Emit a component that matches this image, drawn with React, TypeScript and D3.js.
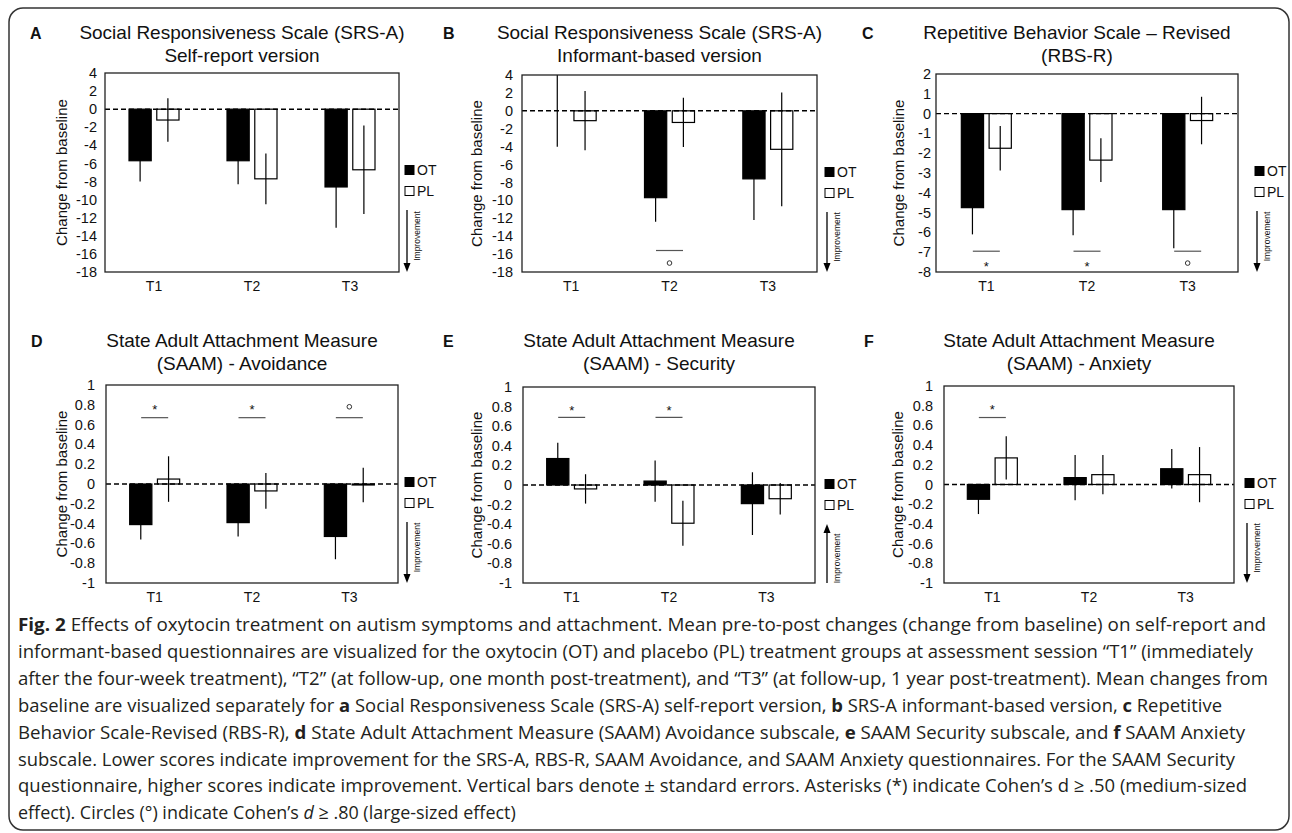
import * as d3 from 'd3';

const timepoints = ['T1', 'T2', 'T3'];
const groups = ['OT', 'PL'];

// tick labels
const srsTicks = [4, 2, 0, -2, -4, -6, -8, -10, -12, -14, -16, -18];
const rbsTicks = [2, 1, 0, -1, -2, -3, -4, -5, -6, -7, -8];
const saamTicks = [1, 0.8, 0.6, 0.4, 0.2, 0, -0.2, -0.4, -0.6, -0.8, -1];

// mean change from baseline and standard errors, per timepoint
const srsSelfOT = [-5.7, -5.7, -8.6];
const srsSelfOTse = [2.3, 2.6, 4.5];
const srsSelfPL = [-1.2, -7.7, -6.7];
const srsSelfPLse = [2.4, 2.8, 4.9];

const srsInfOT = [0.0, -9.7, -7.6];
const srsInfOTse = [4.0, 2.7, 4.6];
const srsInfPL = [-1.1, -1.3, -4.3];
const srsInfPLse = [3.3, 2.75, 6.35];

const rbsOT = [-4.75, -4.85, -4.85];
const rbsOTse = [1.35, 1.3, 1.95];
const rbsPL = [-1.75, -2.35, -0.35];
const rbsPLse = [1.12, 1.1, 1.2];

const avoidOT = [-0.41, -0.39, -0.53];
const avoidOTse = [0.15, 0.14, 0.23];
const avoidPL = [0.05, -0.07, -0.01];
const avoidPLse = [0.23, 0.18, 0.175];

const secOT = [0.27, 0.04, -0.19];
const secOTse = [0.16, 0.21, 0.32];
const secPL = [-0.04, -0.39, -0.14];
const secPLse = [0.15, 0.23, 0.16];

const anxOT = [-0.15, 0.07, 0.16];
const anxOTse = [0.15, 0.23, 0.2];
const anxPL = [0.27, 0.1, 0.1];
const anxPLse = [0.22, 0.2, 0.28];

// effect size markers (star = d >= .50, circle = d >= .80)
const srsSelfSig: [string, string][] = [];
const srsInfSig: [string, string][] = [['T2', 'circle']];
const rbsSig: [string, string][] = [['T1', 'star'], ['T2', 'star'], ['T3', 'circle']];
const avoidSig: [string, string][] = [['T1', 'star'], ['T2', 'star'], ['T3', 'circle']];
const secSig: [string, string][] = [['T1', 'star'], ['T2', 'star']];
const anxSig: [string, string][] = [['T1', 'star']];

const FONT = '"Liberation Sans", Arial, Helvetica, sans-serif';
const CAP_FONT = '"Open Sans", "Noto Sans", sans-serif';

const panels = [
  {
    letter: 'A', title: ['Social Responsiveness Scale (SRS-A)', 'Self-report version'],
    box: [105, 399, 73, 272], titleY: 39, letterX: 30, sideX: 407, tickGap: 8, yTitleOff: 43,
    ticks: srsTicks, ot: srsSelfOT, otSe: srsSelfOTse, pl: srsSelfPL, plSe: srsSelfPLse,
    sig: srsSelfSig, sigLine: 0, sigMark: 0, up: false,
  },
  {
    letter: 'B', title: ['Social Responsiveness Scale (SRS-A)', 'Informant-based version'],
    box: [522, 817, 75, 272], titleY: 39, letterX: 443, sideX: 827, tickGap: 9, yTitleOff: 45,
    ticks: srsTicks, ot: srsInfOT, otSe: srsInfOTse, pl: srsInfPL, plSe: srsInfPLse,
    sig: srsInfSig, sigLine: -15.6, sigMark: -17.0, up: false,
  },
  {
    letter: 'C', title: ['Repetitive Behavior Scale \u2013 Revised', '(RBS-R)'],
    box: [936, 1238, 74, 272], titleY: 39, letterX: 862, sideX: 1257, tickGap: 5, yTitleOff: 37,
    ticks: rbsTicks, ot: rbsOT, otSe: rbsOTse, pl: rbsPL, plSe: rbsPLse,
    sig: rbsSig, sigLine: -6.95, sigMark: -7.55, up: false,
  },
  {
    letter: 'D', title: ['State Adult Attachment Measure', '(SAAM) - Avoidance'],
    box: [106, 398, 385, 583], titleY: 347, letterX: 31, sideX: 407, tickGap: 11, yTitleOff: 44,
    ticks: saamTicks, ot: avoidOT, otSe: avoidOTse, pl: avoidPL, plSe: avoidPLse,
    sig: avoidSig, sigLine: 0.67, sigMark: 0.78, up: false,
  },
  {
    letter: 'E', title: ['State Adult Attachment Measure', '(SAAM) - Security'],
    box: [523, 815, 387, 583], titleY: 347, letterX: 443, sideX: 827, tickGap: 11, yTitleOff: 46,
    ticks: saamTicks, ot: secOT, otSe: secOTse, pl: secPL, plSe: secPLse,
    sig: secSig, sigLine: 0.69, sigMark: 0.79, up: true,
  },
  {
    letter: 'F', title: ['State Adult Attachment Measure', '(SAAM) - Anxiety'],
    box: [944, 1234, 386, 583], titleY: 347, letterX: 864, sideX: 1247, tickGap: 11, yTitleOff: 46,
    ticks: saamTicks, ot: anxOT, otSe: anxOTse, pl: anxPL, plSe: anxPLse,
    sig: anxSig, sigLine: 0.68, sigMark: 0.79, up: false,
  },
];

const captionLines: [string, string][][] = [
  [['Fig. 2', 'b'], [' Effects of oxytocin treatment on autism symptoms and attachment. Mean pre-to-post changes (change from baseline) on self-report and', '']],
  [['informant-based questionnaires are visualized for the oxytocin (OT) and placebo (PL) treatment groups at assessment session \u201cT1\u201d (immediately', '']],
  [['after the four-week treatment), \u201cT2\u201d (at follow-up, one month post-treatment), and \u201cT3\u201d (at follow-up, 1 year post-treatment). Mean changes from', '']],
  [['baseline are visualized separately for ', ''], ['a', 'b'], [' Social Responsiveness Scale (SRS-A) self-report version, ', ''], ['b', 'b'], [' SRS-A informant-based version, ', ''], ['c', 'b'], [' Repetitive', '']],
  [['Behavior Scale-Revised (RBS-R), ', ''], ['d', 'b'], [' State Adult Attachment Measure (SAAM) Avoidance subscale, ', ''], ['e', 'b'], [' SAAM Security subscale, and ', ''], ['f', 'b'], [' SAAM Anxiety', '']],
  [['subscale. Lower scores indicate improvement for the SRS-A, RBS-R, SAAM Avoidance, and SAAM Anxiety questionnaires. For the SAAM Security', '']],
  [['questionnaire, higher scores indicate improvement. Vertical bars denote \u00b1 standard errors. Asterisks (*) indicate Cohen\u2019s d \u2265 .50 (medium-sized', '']],
  [['effect). Circles (\u00b0) indicate Cohen\u2019s ', ''], ['d', 'i'], [' \u2265 .80 (large-sized effect)', '']],
];
// right end of each caption line (the last one is left to its natural width)
const captionEnds = [1266, 1253, 1268, 1222, 1245, 1235, 1247];

function Panel({ p }: { p: any }) {
  const [x0, x1, y0, y1] = p.box;
  const y = d3.scaleLinear().domain(d3.extent(p.ticks) as [number, number]).range([y1, y0]);
  const x = d3.scaleBand().domain(timepoints).range([x0, x1]);
  const inner = d3.scaleBand().domain(groups).range([-25, 25]).paddingInner(0.2);
  const cx = (t: string) => (x(t) as number) + x.bandwidth() / 2;
  const fmt = (v: number) => String(+v.toFixed(1));
  const tcx = (x0 + x1) / 2 - 10;
  const arrowTop = y0 + 137;
  const series = [
    { g: 'OT', vals: p.ot, se: p.otSe, fill: '#000' },
    { g: 'PL', vals: p.pl, se: p.plSe, fill: '#fff' },
  ];

  return (
    <g fontFamily={FONT} fill="#111">
      <text x={p.letterX} y={p.titleY} fontSize={16} fontWeight="bold">{p.letter}</text>
      <text x={tcx} y={p.titleY} fontSize={19} textAnchor="middle">{p.title[0]}</text>
      <text x={tcx} y={p.titleY + 23} fontSize={19} textAnchor="middle">{p.title[1]}</text>

      {/* bars */}
      {series.map((s) =>
        timepoints.map((t, i) => {
          const v = s.vals[i];
          const bx = cx(t) + (inner(s.g) as number);
          return (
            <rect key={s.g + t} x={bx} width={inner.bandwidth()}
              y={Math.min(y(v), y(0))} height={Math.abs(y(v) - y(0))}
              fill={s.fill} stroke="#000" strokeWidth={1.2} />
          );
        })
      )}

      <line x1={x0} x2={x1} y1={y(0)} y2={y(0)} stroke="#000" strokeWidth={1.4} strokeDasharray="5 3" />

      {/* error bars */}
      {series.map((s) =>
        timepoints.map((t, i) => {
          const ex = cx(t) + (inner(s.g) as number) + inner.bandwidth() / 2;
          return (
            <line key={'e' + s.g + t} x1={ex} x2={ex}
              y1={y(s.vals[i] - s.se[i])} y2={y(s.vals[i] + s.se[i])}
              stroke="#000" strokeWidth={1.2} />
          );
        })
      )}

      {/* effect size markers */}
      {p.sig.map(([t, mark]: [string, string]) => (
        <g key={'s' + t}>
          <line x1={cx(t) - 13.5} x2={cx(t) + 13.5} y1={y(p.sigLine)} y2={y(p.sigLine)} stroke="#555" strokeWidth={1.2} />
          {mark === 'star'
            ? <text x={cx(t)} y={y(p.sigMark) + 7.5} fontSize={13} textAnchor="middle">*</text>
            : <circle cx={cx(t)} cy={y(p.sigMark)} r={2.3} fill="#fff" stroke="#333" strokeWidth={1} />}
        </g>
      ))}

      <rect x={x0} y={y0} width={x1 - x0} height={y1 - y0} fill="none" stroke="#222" strokeWidth={1.3} />

      {/* y axis */}
      {p.ticks.map((v: number) => (
        <text key={'t' + v} x={x0 - p.tickGap} y={y(v)} dy="0.35em" fontSize={14.5} textAnchor="end">{fmt(v)}</text>
      ))}
      <text transform={`translate(${x0 - p.yTitleOff},${(y0 + y1) / 2}) rotate(-90)`} dy="0.35em"
        fontSize={15} textAnchor="middle">Change from baseline</text>

      {/* x axis */}
      {timepoints.map((t) => (
        <text key={'x' + t} x={cx(t)} y={y1 + 18.5} fontSize={14} textAnchor="middle">{t}</text>
      ))}

      {/* legend */}
      {series.map((s, i) => (
        <g key={'l' + s.g}>
          <rect x={p.sideX - 2} y={y0 + 97 + i * 21 - 4.5} width={9} height={9} fill={s.fill} stroke="#000" strokeWidth={1} />
          <text x={p.sideX + 10} y={y0 + 97 + i * 21} dy="0.36em" fontSize={14}>{s.g}</text>
        </g>
      ))}

      {/* improvement arrow */}
      {p.up ? (
        <g>
          <line x1={p.sideX} x2={p.sideX} y1={arrowTop + 8} y2={y1} stroke="#000" strokeWidth={1.3} />
          <path d={`M${p.sideX - 3.5},${arrowTop + 9}L${p.sideX + 3.5},${arrowTop + 9}L${p.sideX},${arrowTop}Z`} fill="#000" />
        </g>
      ) : (
        <g>
          <line x1={p.sideX} x2={p.sideX} y1={arrowTop} y2={y1 - 8} stroke="#000" strokeWidth={1.3} />
          <path d={`M${p.sideX - 3.5},${y1 - 9}L${p.sideX + 3.5},${y1 - 9}L${p.sideX},${y1}Z`} fill="#000" />
        </g>
      )}
      <text transform={`translate(${p.sideX + 13},${(arrowTop + y1) / 2 + (p.up ? 5 : -5)}) rotate(-90)`}
        fontSize={8.5} textAnchor="middle">Improvement</text>
    </g>
  );
}

function Caption() {
  return (
    <g fontFamily={CAP_FONT} fontSize={18.5} fill="#231f20">
      {captionLines.map((segs, i) => {
        const kids = segs.map(([txt, st], j) => (
          <tspan key={j} fontWeight={st === 'b' ? 'bold' : undefined}
            fontStyle={st === 'i' ? 'italic' : undefined}>{txt}</tspan>
        ));
        const yy = 631 + i * 26.9;
        return captionEnds[i] ? (
          <text key={i} x={18} y={yy} textLength={captionEnds[i] - 18}
            lengthAdjust="spacingAndGlyphs" style={{ whiteSpace: 'pre' }}>{kids}</text>
        ) : (
          <text key={i} transform={`translate(18,${yy}) scale(0.97,1)`} style={{ whiteSpace: 'pre' }}>{kids}</text>
        );
      })}
    </g>
  );
}

export default function App() {
  return (
    <svg width={1292} height={833} style={{ position: 'absolute', left: 0, top: 0, background: '#fff' }}>
      <rect x={0} y={0} width={1292} height={833} fill="#fff" />
      <rect x={9} y={8} width={1280} height={822} rx={14} fill="none" stroke="#333" strokeWidth={1.5} />
      {panels.map((p) => <Panel key={p.letter} p={p} />)}
      <Caption />
    </svg>
  );
}
